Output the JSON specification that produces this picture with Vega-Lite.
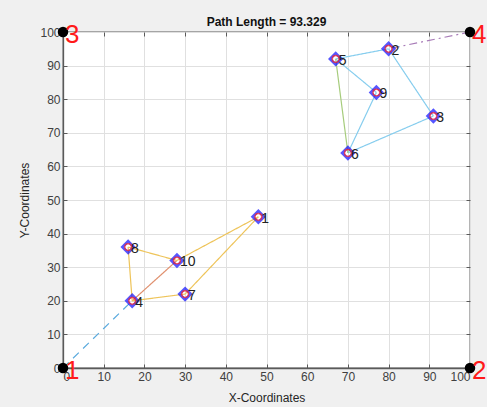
{
  "$schema": "https://vega.github.io/schema/vega-lite/v6.json",
  "width": 407,
  "height": 336,
  "autosize": {"type": "none"},
  "padding": {"left": 63, "top": 32, "right": 17, "bottom": 39},
  "background": "#f0f0f0",
  "title": {"text": "Path Length = 93.329", "fontSize": 12, "fontWeight": "bold", "font": "Liberation Sans", "color": "#111111", "offset": -7},
  "config": {
    "view": {"fill": "white", "stroke": "#5a5a5a", "strokeWidth": 1.3},
    "axis": {"labelFont": "Liberation Sans", "titleFont": "Liberation Sans", "labelFontSize": 12, "titleFontSize": 12, "titleFontWeight": "normal", "labelColor": "#404040", "titleColor": "#262626", "domainColor": "#5a5a5a", "domainWidth": 1.3, "tickColor": "#5a5a5a", "gridColor": "#e0e0e0", "tickSize": -4, "labelPadding": 7, "labelOverlap": false}
  },
  "datasets": {
    "segments": [
      {"x1": 0, "y1": 0, "x2": 17, "y2": 20, "kind": "d1"},
      {"x1": 17, "y1": 20, "x2": 28, "y2": 32, "kind": "orange"},
      {"x1": 17, "y1": 20, "x2": 30, "y2": 22, "kind": "yellow"},
      {"x1": 30, "y1": 22, "x2": 48, "y2": 45, "kind": "yellow"},
      {"x1": 48, "y1": 45, "x2": 28, "y2": 32, "kind": "yellow"},
      {"x1": 28, "y1": 32, "x2": 16, "y2": 36, "kind": "yellow"},
      {"x1": 16, "y1": 36, "x2": 17, "y2": 20, "kind": "yellow"},
      {"x1": 100, "y1": 100, "x2": 80, "y2": 95, "kind": "d4"},
      {"x1": 80, "y1": 95, "x2": 67, "y2": 92, "kind": "cyan"},
      {"x1": 67, "y1": 92, "x2": 77, "y2": 82, "kind": "cyan"},
      {"x1": 77, "y1": 82, "x2": 70, "y2": 64, "kind": "cyan"},
      {"x1": 70, "y1": 64, "x2": 91, "y2": 75, "kind": "cyan"},
      {"x1": 91, "y1": 75, "x2": 80, "y2": 95, "kind": "cyan"},
      {"x1": 67, "y1": 92, "x2": 70, "y2": 64, "kind": "green"}
    ],
    "nodes": [
      {"id": "1", "x": 48, "y": 45},
      {"id": "2", "x": 80, "y": 95},
      {"id": "3", "x": 91, "y": 75},
      {"id": "4", "x": 17, "y": 20},
      {"id": "5", "x": 67, "y": 92},
      {"id": "6", "x": 70, "y": 64},
      {"id": "7", "x": 30, "y": 22},
      {"id": "8", "x": 16, "y": 36},
      {"id": "9", "x": 77, "y": 82},
      {"id": "10", "x": 28, "y": 32}
    ],
    "depots": [
      {"id": "1", "x": 0, "y": 0},
      {"id": "2", "x": 100, "y": 0},
      {"id": "3", "x": 0, "y": 100},
      {"id": "4", "x": 100, "y": 100}
    ]
  },
  "layer": [
    {
      "data": {"name": "depots"},
      "mark": {"type": "point", "opacity": 0},
      "encoding": {
        "x": {"field": "x", "type": "quantitative", "scale": {"domain": [0, 100], "nice": false}, "axis": {"orient": "top", "labels": false, "title": null, "grid": false, "domain": false, "values": [0,10,20,30,40,50,60,70,80,90,100]}},
        "y": {"field": "y", "type": "quantitative", "scale": {"domain": [0, 100], "nice": false}, "axis": {"orient": "right", "labels": false, "title": null, "grid": false, "domain": false, "values": [0,10,20,30,40,50,60,70,80,90,100]}}
      }
    },
    {
      "layer": [
        {
          "data": {"name": "segments"},
          "mark": {"type": "rule", "strokeWidth": 1.2},
          "encoding": {
            "x": {"field": "x1", "type": "quantitative", "scale": {"domain": [0, 100], "nice": false}, "axis": {"orient": "bottom", "title": "X-Coordinates", "values": [0,10,20,30,40,50,60,70,80,90,100], "grid": true, "titlePadding": 10, "labelOverlap": false}},
            "y": {"field": "y1", "type": "quantitative", "scale": {"domain": [0, 100], "nice": false}, "axis": {"orient": "left", "title": "Y-Coordinates", "values": [0,10,20,30,40,50,60,70,80,90,100], "grid": true, "titlePadding": 8, "labelOverlap": false}},
            "x2": {"field": "x2"},
            "y2": {"field": "y2"},
            "color": {"field": "kind", "type": "nominal", "legend": null, "scale": {"domain": ["d1", "orange", "yellow", "d4", "cyan", "green"], "range": ["#5aaade", "#e0906e", "#eec45a", "#a87cb8", "#86cdee", "#a6cc7c"]}},
            "strokeDash": {"field": "kind", "type": "nominal", "legend": null, "scale": {"domain": ["d1", "orange", "yellow", "d4", "cyan", "green"], "range": [[8, 6], [1, 0], [1, 0], [8, 4, 2, 4], [1, 0], [1, 0]]}}
          }
        },
        {
          "data": {"name": "nodes"},
          "mark": {"type": "point", "shape": "diamond", "filled": false, "stroke": "#1010ff", "strokeWidth": 2.8, "size": 130},
          "encoding": {
            "x": {"field": "x", "type": "quantitative", "axis": {"orient": "bottom", "title": "X-Coordinates", "values": [0,10,20,30,40,50,60,70,80,90,100], "grid": true, "titlePadding": 10, "labelOverlap": false}},
            "y": {"field": "y", "type": "quantitative", "axis": {"orient": "left", "title": "Y-Coordinates", "values": [0,10,20,30,40,50,60,70,80,90,100], "grid": true, "titlePadding": 8, "labelOverlap": false}}
          }
        },
        {
          "data": {"name": "nodes"},
          "mark": {"type": "point", "shape": "circle", "filled": false, "stroke": "#ff2020", "strokeWidth": 1.5, "size": 45},
          "encoding": {
            "x": {"field": "x", "type": "quantitative", "axis": {"orient": "bottom", "title": "X-Coordinates", "values": [0,10,20,30,40,50,60,70,80,90,100], "grid": true, "titlePadding": 10, "labelOverlap": false}},
            "y": {"field": "y", "type": "quantitative", "axis": {"orient": "left", "title": "Y-Coordinates", "values": [0,10,20,30,40,50,60,70,80,90,100], "grid": true, "titlePadding": 8, "labelOverlap": false}}
          }
        },
        {
          "data": {"name": "nodes"},
          "mark": {"type": "text", "align": "left", "baseline": "middle", "dx": 3, "dy": 2, "fontSize": 14, "font": "Liberation Sans", "color": "#222222"},
          "encoding": {
            "x": {"field": "x", "type": "quantitative", "axis": {"orient": "bottom", "title": "X-Coordinates", "values": [0,10,20,30,40,50,60,70,80,90,100], "grid": true, "titlePadding": 10, "labelOverlap": false}},
            "y": {"field": "y", "type": "quantitative", "axis": {"orient": "left", "title": "Y-Coordinates", "values": [0,10,20,30,40,50,60,70,80,90,100], "grid": true, "titlePadding": 8, "labelOverlap": false}},
            "text": {"field": "id"}
          }
        },
        {
          "data": {"name": "depots"},
          "mark": {"type": "point", "shape": "circle", "filled": true, "color": "black", "opacity": 1, "size": 110},
          "encoding": {
            "x": {"field": "x", "type": "quantitative", "axis": {"orient": "bottom", "title": "X-Coordinates", "values": [0,10,20,30,40,50,60,70,80,90,100], "grid": true, "titlePadding": 10, "labelOverlap": false}},
            "y": {"field": "y", "type": "quantitative", "axis": {"orient": "left", "title": "Y-Coordinates", "values": [0,10,20,30,40,50,60,70,80,90,100], "grid": true, "titlePadding": 8, "labelOverlap": false}}
          }
        },
        {
          "data": {"name": "depots"},
          "mark": {"type": "text", "align": "left", "baseline": "middle", "dx": 2, "dy": 3, "fontSize": 26, "font": "Liberation Sans", "color": "#ff1a1a"},
          "encoding": {
            "x": {"field": "x", "type": "quantitative", "axis": {"orient": "bottom", "title": "X-Coordinates", "values": [0,10,20,30,40,50,60,70,80,90,100], "grid": true, "titlePadding": 10, "labelOverlap": false}},
            "y": {"field": "y", "type": "quantitative", "axis": {"orient": "left", "title": "Y-Coordinates", "values": [0,10,20,30,40,50,60,70,80,90,100], "grid": true, "titlePadding": 8, "labelOverlap": false}},
            "text": {"field": "id"}
          }
        }
      ]
    }
  ],
  "resolve": {"axis": {"x": "independent", "y": "independent"}}
}
